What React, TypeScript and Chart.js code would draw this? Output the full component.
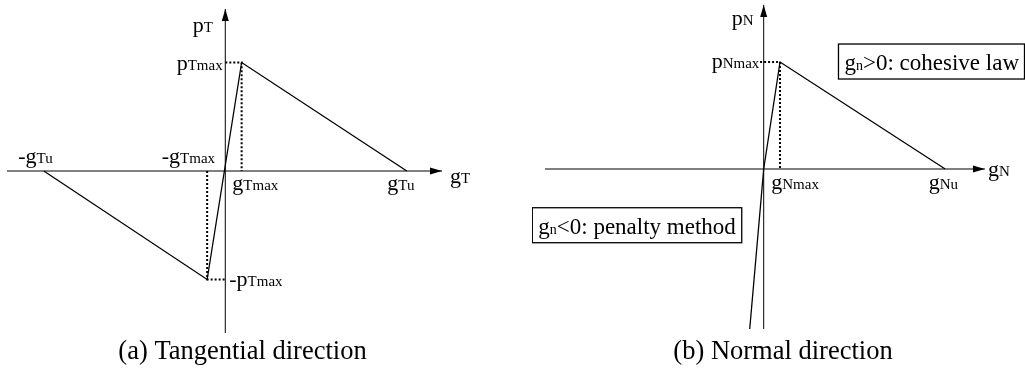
import React, { useEffect, useRef } from "react";
import { Chart, registerables } from "chart.js";

Chart.register(...registerables);

// ---------- Data: (a) Tangential direction ----------
// key points of the law: -gTu, -gTmax, gTmax, gTu
const tangentialGap = [-1.0, -0.1, 0.09, 1.0];
const tangentialTraction = [0, -1, 1, 0];
const tangentialAxisX = [-1.203, 1.194];
const tangentialAxisY = [-1.493, 1.493];

// ---------- Data: (b) Normal direction ----------
// penalty end, origin, gNmax, gNu
const normalGap = [-0.077, 0, 0.09, 1.0];
const normalTraction = [-1.495, 0, 1, 0];
const normalAxisX = [-1.205, 1.219];
const normalAxisY = [-1.495, 1.533];
const normalGuideStart = -0.02;

// ---------- Text ----------
const captionA = "(a) Tangential direction";
const captionB = "(b) Normal direction";
const tangentialLabelMain = ["p", "p", "-g", "-g", "g", "g", "g", "-p"];
const tangentialLabelSub = ["T", "Tmax", "Tu", "Tmax", "Tmax", "Tu", "T", "Tmax"];
const normalLabelMain = ["p", "p", "g", "g", "g"];
const normalLabelSub = ["N", "Nmax", "Nmax", "Nu", "N"];
const boxCohesive = [["g", "small0"], ["n", "small"], [">0: cohesive law", "big"]];
const boxPenalty = [["g", "small0"], ["n", "small"], ["<0: penalty method", "big"]];

const FONT = '"Liberation Serif", "Times New Roman", serif';

type Seg = [string, string];

function drawSegs(ctx: CanvasRenderingContext2D, segs: Seg[], x: number, y: number, align: string, big: number, small: number) {
  const fontFor = (k: string) => `${k === "small" ? small : big}px ${FONT}`;
  let total = 0;
  for (const [t, k] of segs) {
    ctx.font = fontFor(k);
    total += ctx.measureText(t).width;
  }
  let cx = align === "right" ? x - total : x;
  ctx.textAlign = "left";
  ctx.textBaseline = "alphabetic";
  for (const [t, k] of segs) {
    ctx.font = fontFor(k);
    ctx.fillText(t, cx, y);
    cx += ctx.measureText(t).width;
  }
}

const overlayPlugin = {
  id: "diagramOverlay",
  afterDatasetsDraw(chart: any, _args: any, opts: any) {
    const { ctx } = chart;
    const sx = chart.scales.x;
    const sy = chart.scales.y;
    ctx.save();
    ctx.fillStyle = "#000";
    ctx.strokeStyle = "#000";
    for (const a of opts.arrows || []) {
      const px = sx.getPixelForValue(a.x);
      const py = sy.getPixelForValue(a.y);
      const len = 12;
      const hw = 3.5;
      ctx.beginPath();
      if (a.dir === "right") {
        ctx.moveTo(px, py);
        ctx.lineTo(px - len, py - hw);
        ctx.lineTo(px - len, py + hw);
      } else {
        ctx.moveTo(px, py);
        ctx.lineTo(px - hw, py + len);
        ctx.lineTo(px + hw, py + len);
      }
      ctx.closePath();
      ctx.fill();
    }
    for (const b of opts.boxes || []) {
      const x1 = sx.getPixelForValue(b.x1);
      const x2 = sx.getPixelForValue(b.x2);
      const y1 = sy.getPixelForValue(b.y1);
      const y2 = sy.getPixelForValue(b.y2);
      ctx.lineWidth = 1.3;
      ctx.strokeRect(Math.min(x1, x2), Math.min(y1, y2), Math.abs(x2 - x1), Math.abs(y2 - y1));
      const segs: Seg[] = b.segs.map((s: Seg) => [s[0], s[1] === "small0" ? "big" : s[1]] as Seg);
      drawSegs(ctx, segs, Math.min(x1, x2) + 6, Math.min(y1, y2) + 26, "left", 23, 14);
    }
    for (const l of opts.labels || []) {
      const px = sx.getPixelForValue(l.x) + l.dx;
      const py = sy.getPixelForValue(l.y) + l.dy;
      drawSegs(ctx, [[l.main, "big"], [l.sub, "small"]], px, py, l.align, 22, 15);
    }
    ctx.restore();
  },
};

function pts(xs: number[], ys: number[]) {
  return xs.map((x, i) => ({ x, y: ys[i] }));
}

function lineDs(data: any[], width: number, dash: number[] = []) {
  return {
    data,
    showLine: true,
    borderColor: "#000",
    backgroundColor: "#000",
    borderWidth: width,
    borderDash: dash,
    pointRadius: 0,
    pointHoverRadius: 0,
    fill: false,
    tension: 0,
  };
}

function baseOptions(xr: number[], yr: number[], caption: string, overlay: any) {
  return {
    animation: false,
    responsive: false,
    maintainAspectRatio: false,
    events: [],
    layout: { padding: 0 },
    scales: {
      x: { type: "linear", min: xr[0], max: xr[1], display: false },
      y: { type: "linear", min: yr[0], max: yr[1], display: false },
    },
    plugins: {
      legend: { display: false },
      tooltip: { enabled: false },
      title: {
        display: true,
        position: "bottom",
        text: caption,
        color: "#000",
        font: { family: FONT, size: 26.5, weight: "normal", lineHeight: 1 },
        padding: { top: 0, bottom: 3.75 },
      },
      diagramOverlay: overlay,
    },
  };
}

function tangentialConfig(): any {
  const [gTuN, gTmaxN, gTmax, gTu] = tangentialGap;
  const [, pTmaxN, pTmax] = tangentialTraction;
  const law = pts(tangentialGap, tangentialTraction);
  const offsets: [number, number, string][] = [
    [-32.6, 23, "left"],
    [-2.6, 8, "right"],
    [-25.5, -8.5, "left"],
    [7.9, -8.5, "right"],
    [-9.3, 19, "left"],
    [-19.5, 19, "left"],
    [8, 11.5, "left"],
    [4, 6.5, "left"],
  ];
  const anchors = [
    [0, tangentialAxisY[1]],
    [0, pTmax],
    [gTuN, 0],
    [gTmaxN, 0],
    [gTmax, 0],
    [gTu, 0],
    [tangentialAxisX[1], 0],
    [0, pTmaxN],
  ];
  const labels = tangentialLabelMain.map((m, i) => ({
    main: m,
    sub: tangentialLabelSub[i],
    x: anchors[i][0],
    y: anchors[i][1],
    dx: offsets[i][0],
    dy: offsets[i][1],
    align: offsets[i][2],
  }));
  return {
    type: "scatter",
    data: {
      datasets: [
        lineDs([{ x: tangentialAxisX[0], y: 0 }, { x: tangentialAxisX[1], y: 0 }], 1),
        lineDs([{ x: 0, y: tangentialAxisY[0] }, { x: 0, y: tangentialAxisY[1] }], 1),
        lineDs(law, 1.3),
        lineDs([{ x: 0, y: pTmax }, { x: gTmax, y: pTmax }, { x: gTmax, y: 0 }], 2, [2, 2]),
        lineDs([{ x: gTmaxN, y: 0 }, { x: gTmaxN, y: pTmaxN }, { x: 0, y: pTmaxN }], 2, [2, 2]),
      ],
    },
    options: baseOptions([-1.2413, 1.4309], [-1.546, 1.576], captionA, {
      arrows: [
        { x: tangentialAxisX[1], y: 0, dir: "right" },
        { x: 0, y: tangentialAxisY[1], dir: "up" },
      ],
      labels,
    }),
    plugins: [overlayPlugin],
  };
}

function normalConfig(): any {
  const gNmax = normalGap[2];
  const gNu = normalGap[3];
  const pNmax = normalTraction[2];
  const law = pts(normalGap, normalTraction);
  const offsets: [number, number, string][] = [
    [-32, 20, "left"],
    [-4.4, 5.6, "right"],
    [-8.8, 20, "left"],
    [-16.5, 20, "left"],
    [3, 6.7, "left"],
  ];
  const anchors = [
    [0, normalAxisY[1]],
    [0, pNmax],
    [gNmax, 0],
    [gNu, 0],
    [normalAxisX[1], 0],
  ];
  const labels = normalLabelMain.map((m, i) => ({
    main: m,
    sub: normalLabelSub[i],
    x: anchors[i][0],
    y: anchors[i][1],
    dx: offsets[i][0],
    dy: offsets[i][1],
    align: offsets[i][2],
  }));
  return {
    type: "scatter",
    data: {
      datasets: [
        lineDs([{ x: normalAxisX[0], y: 0 }, { x: normalAxisX[1], y: 0 }], 1),
        lineDs([{ x: 0, y: normalAxisY[0] }, { x: 0, y: normalAxisY[1] }], 1),
        lineDs(law, 1.3),
        lineDs([{ x: normalGuideStart, y: pNmax }, { x: gNmax, y: pNmax }, { x: gNmax, y: 0 }], 2, [2, 2]),
      ],
    },
    options: baseOptions([-1.2766, 1.4893], [-1.5864, 1.5794], captionB, {
      arrows: [
        { x: normalAxisX[1], y: 0, dir: "right" },
        { x: 0, y: normalAxisY[1], dir: "up" },
      ],
      boxes: [
        { x1: 0.412, x2: 1.437, y1: 1.168, y2: 0.841, segs: boxCohesive },
        { x1: -1.275, x2: -0.121, y1: -0.362, y2: -0.689, segs: boxPenalty },
      ],
      labels,
    }),
    plugins: [overlayPlugin],
  };
}

function ChartCanvas({ config, left, width }: { config: () => any; left: number; width: number }) {
  const ref = useRef<HTMLCanvasElement | null>(null);
  useEffect(() => {
    if (!ref.current) return;
    const chart = new Chart(ref.current, config());
    return () => chart.destroy();
  }, [config]);
  return (
    <canvas
      ref={ref}
      width={width}
      height={369}
      style={{ position: "absolute", left, top: 0, width, height: 369, display: "block" }}
    />
  );
}

export default function App() {
  return (
    <div
      style={{
        position: "absolute",
        left: 0,
        top: 0,
        width: 1025,
        height: 369,
        overflow: "hidden",
        background: "#fff",
      }}
    >
      <ChartCanvas config={tangentialConfig} left={0} width={485} />
      <ChartCanvas config={normalConfig} left={532} width={502} />
    </div>
  );
}
